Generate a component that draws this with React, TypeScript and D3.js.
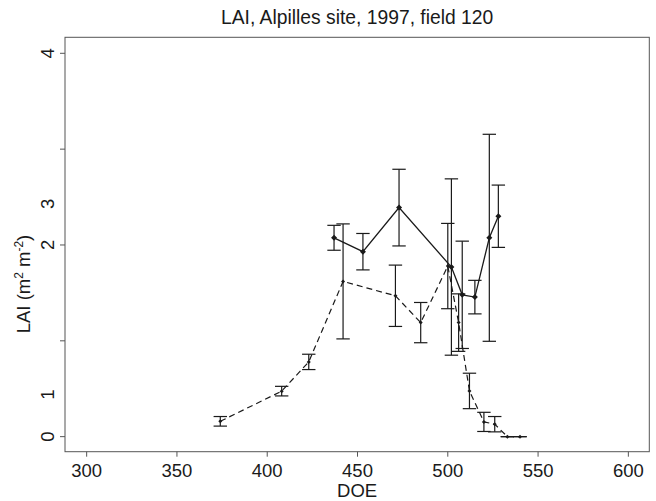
import React from "react";
import * as d3 from "d3";

// ---- data ----
const solidDOE = [437, 453, 473, 502, 508, 515, 523, 528];
const solidLAI = [2.075, 1.93, 2.39, 1.77, 1.48, 1.456, 2.075, 2.3];
const solidErr = [0.13, 0.19, 0.4, 0.92, 0.56, 0.175, 1.08, 0.325];

const dashDOE = [374, 408, 423, 442, 471, 485, 500, 506, 512, 520, 526, 533, 540];
const dashLAI = [0.16, 0.475, 0.78, 1.62, 1.47, 1.19, 1.78, 1.19, 0.477, 0.154, 0.13, 0.0, 0.0];
const dashErr = [0.05, 0.05, 0.08, 0.6, 0.32, 0.21, 0.445, 0.3, 0.185, 0.1, 0.08, 0.0, 0.0];

const xTicks = [300, 350, 400, 450, 500, 550, 600];
const yTicks = [0, 1, 2, 3, 4];
const yLabelTexts = ["0", "1", "2", "3", "4"];
const yLabelAt = [0, 0.44, 2, 2.43, 4];

const title = "LAI, Alpilles site, 1997, field 120";
const xTitle = "DOE";

const W = 656, H = 501;
const left = 65, right = 649.3, top = 37.3, bottom = 451.7;
const FONT = "'Liberation Sans', Arial, Helvetica, sans-serif";

export default function App() {
  const x = d3.scaleLinear().domain([288, 611.6]).range([left, right]);
  const y = d3.scaleLinear().domain([-0.157, 4.167]).range([bottom, top]);
  const line = d3.line<[number, number]>().x(d => x(d[0])).y(d => y(d[1]));
  const solidPts: [number, number][] = solidDOE.map((d, i) => [d, solidLAI[i]]);
  const dashPts: [number, number][] = dashDOE.map((d, i) => [d, dashLAI[i]]);
  const cap = 6.7;
  const axisColor = "#555";
  const ink = "#1a1a1a";
  const txt = "#1a1a1a";

  const errBars = (xs: number[], ys: number[], es: number[], key: string) =>
    xs.map((d, i) => {
      const cx = x(d);
      const y1 = y(ys[i] + es[i]);
      const y2 = y(ys[i] - es[i]);
      return (
        <g key={key + i} stroke={ink} strokeWidth={1.2}>
          <line x1={cx} x2={cx} y1={y1} y2={y2} />
          <line x1={cx - cap} x2={cx + cap} y1={y1} y2={y1} />
          <line x1={cx - cap} x2={cx + cap} y1={y2} y2={y2} />
        </g>
      );
    });

  const diamond = (cx: number, cy: number, r: number) =>
    `M${cx},${cy - r}L${cx + r},${cy}L${cx},${cy + r}L${cx - r},${cy}Z`;

  return (
    <svg width={W} height={H} style={{ position: "absolute", left: 0, top: 0, background: "#fff" }}>
      <rect x={0} y={0} width={W} height={H} fill="#fff" />
      <text x={(left + right) / 2} y={24} textAnchor="middle" fontFamily={FONT} fontSize={19.3} fill={txt}>
        {title}
      </text>
      <rect x={left} y={top} width={right - left} height={bottom - top} fill="none" stroke={axisColor} strokeWidth={1} />
      {xTicks.map(t => (
        <g key={"xt" + t}>
          <line x1={x(t)} x2={x(t)} y1={bottom} y2={bottom + 5} stroke={axisColor} />
          <text x={x(t)} y={477} textAnchor="middle" fontFamily={FONT} fontSize={18.5} fill={txt}>
            {t}
          </text>
        </g>
      ))}
      {yTicks.map(t => (
        <line key={"yt" + t} x1={left - 5} x2={left} y1={y(t)} y2={y(t)} stroke={axisColor} />
      ))}
      {yLabelTexts.map((s, i) => (
        <text
          key={"yl" + i}
          transform={`translate(54,${y(yLabelAt[i])}) rotate(-90)`}
          textAnchor="middle"
          fontFamily={FONT}
          fontSize={18.5}
          fill={txt}
        >
          {s}
        </text>
      ))}
      <text x={(left + right) / 2} y={497} textAnchor="middle" fontFamily={FONT} fontSize={18.5} fill={txt}>
        {xTitle}
      </text>
      <text transform={`translate(30,284) rotate(-90)`} textAnchor="middle" fontFamily={FONT} fontSize={18.5} fill={txt}>
        LAI (m
        <tspan dy={-7} fontSize={12}>2</tspan>
        <tspan dy={7}> m</tspan>
        <tspan dy={-7} fontSize={12}>-2</tspan>
        <tspan dy={7}>)</tspan>
      </text>

      {errBars(dashDOE, dashLAI, dashErr, "de")}
      {errBars(solidDOE, solidLAI, solidErr, "se")}
      <path d={line(dashPts) || ""} fill="none" stroke={ink} strokeWidth={1.2} strokeDasharray="6,4" />
      <path d={line(solidPts) || ""} fill="none" stroke={ink} strokeWidth={1.3} />
      {dashPts.map((p, i) => (
        <path key={"dp" + i} d={diamond(x(p[0]), y(p[1]), 2)} fill={ink} />
      ))}
      {solidPts.map((p, i) => (
        <path key={"sp" + i} d={diamond(x(p[0]), y(p[1]), 3)} fill={ink} />
      ))}
    </svg>
  );
}
